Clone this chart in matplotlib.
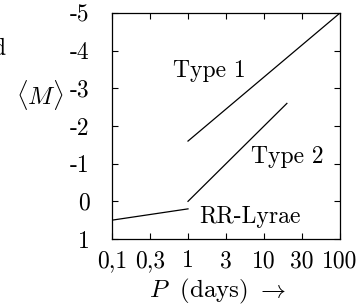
import matplotlib
matplotlib.use("Agg")
import matplotlib.pyplot as plt
import numpy as np

plt.rcParams['font.family'] = 'cmr10'
plt.rcParams['mathtext.fontset'] = 'cm'
plt.rcParams['axes.unicode_minus'] = False

# data
x_tick_labels = ["0,1", "0,3", "1", "3", "10", "30", "100"]
y_ticks = [-5, -4, -3, -2, -1, 0, 1]
rr_P = [0.1, 1.0]
rr_M = [0.5, 0.2]
t2_P = [1.0, 20.0]
t2_M = [0.0, -2.6]
t1_P = [1.0, 100.0]
t1_M = [-1.6, -5.0]
labels = ["Type 1", "Type 2", "RR-Lyrae"]

W, H = 363, 306
fig = plt.figure(figsize=(W/100, H/100), dpi=100)
ax = fig.add_axes([112/W, 1-239/H, 228/W, 226/H])

lw = 0.9
ax.plot(rr_P, rr_M, color='black', lw=lw)
ax.plot(t2_P, t2_M, color='black', lw=lw)
ax.plot(t1_P, t1_M, color='black', lw=lw)

ax.set_xscale('log')
ax.set_xlim(0.1, 100)
ax.set_ylim(1, -5)
xt = [10**(-1 + 0.5*k) for k in range(len(x_tick_labels))]
ax.set_xticks(xt)
ax.set_xticklabels(x_tick_labels)
ax.xaxis.set_minor_locator(matplotlib.ticker.NullLocator())
ax.set_yticks(y_ticks)
ax.set_yticklabels([str(v) for v in y_ticks])
ax.tick_params(direction='in', length=4.5, width=0.8, top=True, right=True,
               labelsize=17, color='black')
ax.tick_params(axis='y', pad=16)
ax.tick_params(axis='x', pad=8)
for s in ax.spines.values():
    s.set_linewidth(0.9)

ax.text(1.9, -3.30, labels[0], fontsize=17, ha='center', va='baseline')
ax.text(20.4, -1.02, labels[1], fontsize=17, ha='center', va='baseline')
ax.text(6.5, 0.575, labels[2], fontsize=17, ha='center', va='baseline')

fig.text(39.5/W, 1-94.5/H, r'$\langle M\rangle$', fontsize=18, ha='center', va='center')
fig.text(217/W, 1-297/H, r'$P\ \ \mathrm{(days)}\ \rightarrow$', fontsize=18, ha='center', va='baseline')
fig.text(5/W, 1-55/H, 'd', fontsize=17, ha='right', va='baseline')

fig.savefig('out.png', dpi=100)
